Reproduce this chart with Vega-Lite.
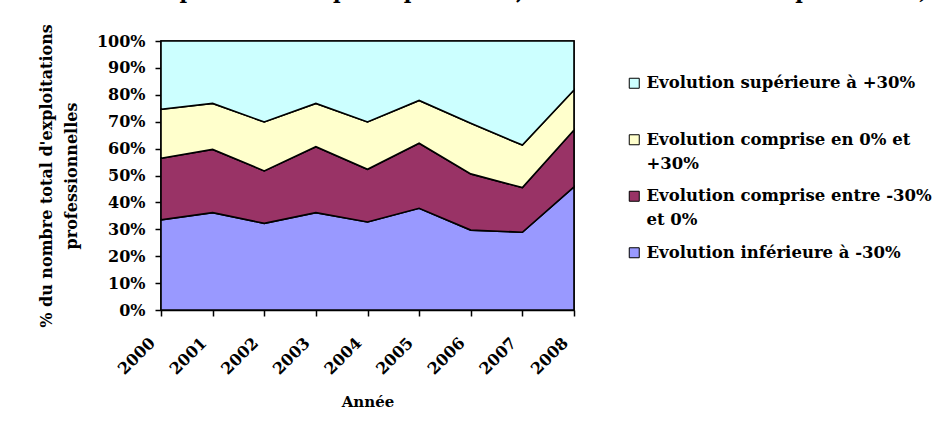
{
  "$schema": "https://vega.github.io/schema/vega-lite/v6.json",
  "width": 413,
  "height": 269,
  "autosize": {"type": "none"},
  "padding": {"left": 161, "top": 41, "right": 361, "bottom": 121},
  "background": "white",
  "title": {
    "text": "avant impôts - RCAI - par exploitation, en % du nombre des exploitations)",
    "anchor": "start",
    "frame": "group",
    "font": "DejaVu Serif",
    "fontSize": 20.5,
    "fontWeight": "bold",
    "color": "black",
    "baseline": "alphabetic",
    "offset": 28,
    "dx": -81,
    "dy": 24
  },
  "data": {
    "values": [
      {"annee": "2000", "classe": "Evolution inférieure à -30%", "rang": 1, "valeur": 33.5},
      {"annee": "2001", "classe": "Evolution inférieure à -30%", "rang": 1, "valeur": 36.2},
      {"annee": "2002", "classe": "Evolution inférieure à -30%", "rang": 1, "valeur": 32.2},
      {"annee": "2003", "classe": "Evolution inférieure à -30%", "rang": 1, "valeur": 36.2},
      {"annee": "2004", "classe": "Evolution inférieure à -30%", "rang": 1, "valeur": 32.7},
      {"annee": "2005", "classe": "Evolution inférieure à -30%", "rang": 1, "valeur": 37.8},
      {"annee": "2006", "classe": "Evolution inférieure à -30%", "rang": 1, "valeur": 29.7},
      {"annee": "2007", "classe": "Evolution inférieure à -30%", "rang": 1, "valeur": 28.9},
      {"annee": "2008", "classe": "Evolution inférieure à -30%", "rang": 1, "valeur": 45.8},
      {"annee": "2000", "classe": "Evolution comprise entre -30% et 0%", "rang": 2, "valeur": 22.9},
      {"annee": "2001", "classe": "Evolution comprise entre -30% et 0%", "rang": 2, "valeur": 23.5},
      {"annee": "2002", "classe": "Evolution comprise entre -30% et 0%", "rang": 2, "valeur": 19.5},
      {"annee": "2003", "classe": "Evolution comprise entre -30% et 0%", "rang": 2, "valeur": 24.5},
      {"annee": "2004", "classe": "Evolution comprise entre -30% et 0%", "rang": 2, "valeur": 19.6},
      {"annee": "2005", "classe": "Evolution comprise entre -30% et 0%", "rang": 2, "valeur": 24.2},
      {"annee": "2006", "classe": "Evolution comprise entre -30% et 0%", "rang": 2, "valeur": 20.9},
      {"annee": "2007", "classe": "Evolution comprise entre -30% et 0%", "rang": 2, "valeur": 16.6},
      {"annee": "2008", "classe": "Evolution comprise entre -30% et 0%", "rang": 2, "valeur": 21.1},
      {"annee": "2000", "classe": "Evolution comprise en 0% et +30%", "rang": 3, "valeur": 18.2},
      {"annee": "2001", "classe": "Evolution comprise en 0% et +30%", "rang": 3, "valeur": 17.1},
      {"annee": "2002", "classe": "Evolution comprise en 0% et +30%", "rang": 3, "valeur": 18.2},
      {"annee": "2003", "classe": "Evolution comprise en 0% et +30%", "rang": 3, "valeur": 16.1},
      {"annee": "2004", "classe": "Evolution comprise en 0% et +30%", "rang": 3, "valeur": 17.6},
      {"annee": "2005", "classe": "Evolution comprise en 0% et +30%", "rang": 3, "valeur": 15.9},
      {"annee": "2006", "classe": "Evolution comprise en 0% et +30%", "rang": 3, "valeur": 18.8},
      {"annee": "2007", "classe": "Evolution comprise en 0% et +30%", "rang": 3, "valeur": 15.8},
      {"annee": "2008", "classe": "Evolution comprise en 0% et +30%", "rang": 3, "valeur": 14.9},
      {"annee": "2000", "classe": "Evolution supérieure à +30%", "rang": 4, "valeur": 25.4},
      {"annee": "2001", "classe": "Evolution supérieure à +30%", "rang": 4, "valeur": 23.2},
      {"annee": "2002", "classe": "Evolution supérieure à +30%", "rang": 4, "valeur": 30.1},
      {"annee": "2003", "classe": "Evolution supérieure à +30%", "rang": 4, "valeur": 23.2},
      {"annee": "2004", "classe": "Evolution supérieure à +30%", "rang": 4, "valeur": 30.1},
      {"annee": "2005", "classe": "Evolution supérieure à +30%", "rang": 4, "valeur": 22.1},
      {"annee": "2006", "classe": "Evolution supérieure à +30%", "rang": 4, "valeur": 30.6},
      {"annee": "2007", "classe": "Evolution supérieure à +30%", "rang": 4, "valeur": 38.7},
      {"annee": "2008", "classe": "Evolution supérieure à +30%", "rang": 4, "valeur": 18.2}
    ]
  },
  "mark": {"type": "area", "stroke": "black", "strokeWidth": 1.6, "opacity": 1, "interpolate": "linear"},
  "encoding": {
    "x": {
      "field": "annee",
      "type": "ordinal",
      "scale": {"type": "point", "padding": 0},
      "axis": {
        "title": "Année",
        "labelAngle": -45,
        "labelAlign": "right",
        "labelBaseline": "middle",
        "labelPadding": 24,
        "labelOffset": -9,
        "titlePadding": 17
      }
    },
    "y": {
      "field": "valeur",
      "type": "quantitative",
      "stack": "normalize",
      "scale": {"domain": [0, 1], "nice": false},
      "axis": {
        "title": ["% du nombre total d'exploitations", "professionnelles"],
        "format": ".0%",
        "values": [0, 0.1, 0.2, 0.3, 0.4, 0.5, 0.6, 0.7, 0.8, 0.9, 1],
        "titleLineHeight": 25,
        "titlePadding": 17,
        "titleFontSize": 16,
        "labelPadding": 10
      }
    },
    "color": {
      "field": "classe",
      "type": "nominal",
      "scale": {
        "domain": ["Evolution supérieure à +30%", "Evolution comprise en 0% et +30%", "Evolution comprise entre -30% et 0%", "Evolution inférieure à -30%"],
        "range": ["#CCFFFF", "#FFFFCC", "#993366", "#9999FF"]
      },
      "legend": {
        "title": null,
        "orient": "none",
        "legendX": 465,
        "legendY": 34,
        "symbolType": "square",
        "symbolSize": 100,
        "symbolStrokeColor": "black",
        "symbolStrokeWidth": 1,
        "symbolOpacity": 1,
        "labelOffset": 4,
        "rowPadding": 15.5,
        "gridAlign": "all",
        "labelLimit": 400,
        "labelBaseline": "middle",
        "labelExpr": "datum.label == 'Evolution comprise en 0% et +30%' ? ['Evolution comprise en 0% et', '+30%'] : datum.label == 'Evolution comprise entre -30% et 0%' ? ['Evolution comprise entre -30%', 'et 0%'] : [datum.label, '']"
      }
    },
    "order": {"field": "rang", "type": "quantitative"}
  },
  "config": {
    "view": {"stroke": "black", "strokeWidth": 1.5},
    "style": {"guide-label": {"lineHeight": 24}},
    "axis": {
      "labelFont": "DejaVu Serif",
      "labelFontSize": 16,
      "labelFontWeight": "bold",
      "labelColor": "black",
      "titleFont": "DejaVu Serif",
      "titleFontSize": 15,
      "titleFontWeight": "bold",
      "titleColor": "black",
      "domainColor": "black",
      "domainWidth": 1.5,
      "tickColor": "black",
      "tickWidth": 1.5,
      "tickSize": 6,
      "grid": false
    },
    "legend": {
      "labelFont": "DejaVu Serif",
      "labelFontSize": 16.5,
      "labelFontWeight": "bold",
      "labelColor": "black",
      "padding": 0
    }
  }
}
